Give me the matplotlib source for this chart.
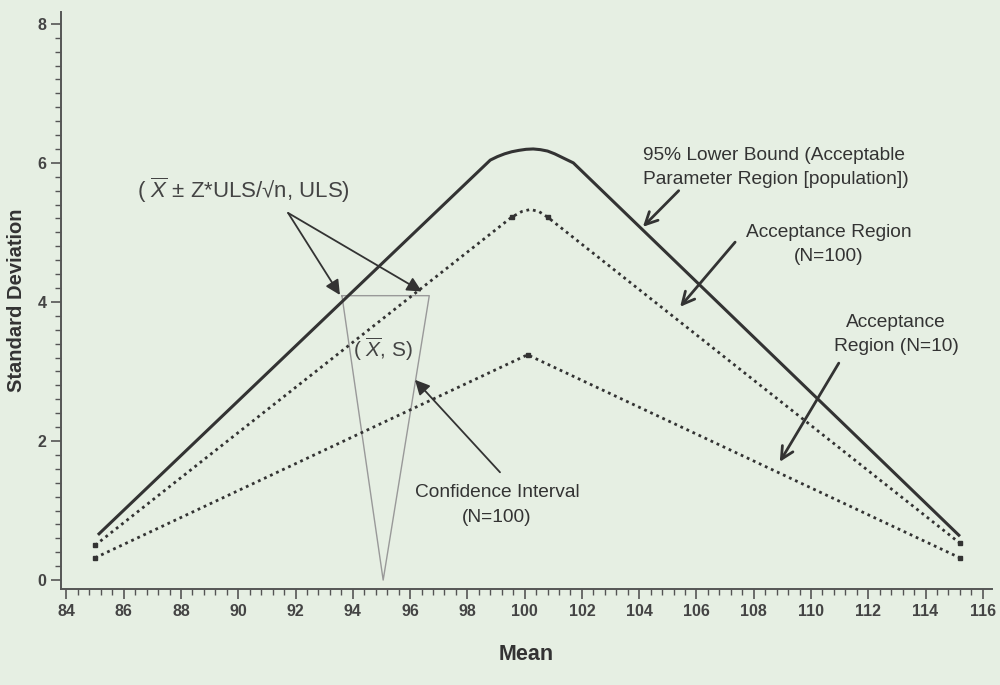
import numpy as np
import matplotlib
matplotlib.use('Agg')
import matplotlib.pyplot as plt
from matplotlib.ticker import MultipleLocator

plt.rcParams['font.family'] = ['Liberation Sans', 'DejaVu Sans']
plt.rcParams['mathtext.fontset'] = 'custom'
plt.rcParams['mathtext.rm'] = 'Liberation Sans'
plt.rcParams['mathtext.it'] = 'Liberation Sans:italic'

# 95% lower bound (solid)
lb_x = [85.1, 98.8, 99.05, 99.3, 99.55, 99.8, 100.05, 100.3, 100.55, 100.8, 101.05, 101.3, 101.5, 101.7, 115.2]
lb_y = [0.65, 6.04, 6.09, 6.13, 6.16, 6.18, 6.195, 6.20, 6.19, 6.17, 6.13, 6.08, 6.04, 6.00, 0.63]

# acceptance region N=100 (dotted)
a100_x = [85.0, 99.55, 99.9, 100.2, 100.5, 100.8, 115.2]
a100_y = [0.50, 5.22, 5.30, 5.33, 5.30, 5.22, 0.53]

# acceptance region N=10 (dotted)
a10_x = [85.0, 100.1, 115.2]
a10_y = [0.32, 3.24, 0.32]

# confidence interval triangle
ci_x = [93.62, 95.06, 96.67, 93.62]
ci_y = [4.09, 0.0, 4.09, 4.09]

bg = '#e6efe3'
dark = '#333333'
axcol = '#555555'

fig = plt.figure(figsize=(10, 6.85), dpi=100, facecolor=bg)
ax = fig.add_axes([0.061, 0.140, 0.931, 0.8425])
ax.set_facecolor(bg)

ax.plot(ci_x, ci_y, color='#999999', lw=1.0, zorder=1)
ax.plot(lb_x, lb_y, color=dark, lw=2.2, solid_capstyle='butt', solid_joinstyle='round', zorder=3)
ax.plot(a100_x, a100_y, color=dark, lw=2.0, linestyle=(0, (1, 1.4)), zorder=3)
ax.plot(a10_x, a10_y, color=dark, lw=2.0, linestyle=(0, (1, 1.4)), zorder=3)
ax.plot(a100_x, a100_y, ls='none', marker='s', ms=3.5, color=dark, markevery=[0, 1, 5, 6])
ax.plot(a10_x, a10_y, ls='none', marker='s', ms=3.5, color=dark)

ax.set_xlim(83.81, 116.32)
ax.set_ylim(-0.13, 8.17)
ax.xaxis.set_major_locator(MultipleLocator(2))
ax.xaxis.set_minor_locator(MultipleLocator(0.4))
ax.yaxis.set_major_locator(MultipleLocator(2))
ax.yaxis.set_minor_locator(MultipleLocator(0.2))
ax.tick_params(which='major', direction='out', length=7, width=1.2, color=axcol,
               labelsize=11.5, labelcolor='#444444')
ax.tick_params(which='minor', direction='out', length=4, width=1.0, color=axcol)
for lab in ax.get_xticklabels() + ax.get_yticklabels():
    lab.set_fontweight('bold')
for s in ['top', 'right']:
    ax.spines[s].set_visible(False)
for s in ['left', 'bottom']:
    ax.spines[s].set_color(axcol)
    ax.spines[s].set_linewidth(1.4)

ax.set_xlabel('Mean', fontsize=15.5, fontweight='bold', color=dark, labelpad=18)
ax.set_ylabel('Standard Deviation', fontsize=14.5, fontweight='bold', color=dark, labelpad=8)

fill_arrow = dict(arrowstyle='-|>', color=dark, lw=1.3, mutation_scale=22,
                  shrinkA=0, shrinkB=0)
line_arrow = dict(arrowstyle='->', color=dark, lw=2.0, mutation_scale=22,
                  shrinkA=0, shrinkB=0)

fs = 13.8

ax.text(90.17, 5.61, '( $\\overline{X}$ \u00b1 Z*ULS/\u221an, ULS)', fontsize=16,
        color='#444444', ha='center', va='center')
ax.annotate('', xy=(93.55, 4.10), xytext=(91.74, 5.28), arrowprops=fill_arrow)
ax.annotate('', xy=(96.41, 4.15), xytext=(91.74, 5.28), arrowprops=fill_arrow)

ax.text(95.06, 3.31, '( $\\overline{X}$, S)', fontsize=15, color='#444444',
        ha='center', va='center')

ax.text(99.04, 1.08, 'Confidence Interval\n(N=100)', fontsize=fs, color=dark,
        ha='center', va='center', linespacing=1.55)
ax.annotate('', xy=(96.17, 2.88), xytext=(99.14, 1.55), arrowprops=fill_arrow)

ax.text(104.13, 5.93, '95% Lower Bound (Acceptable\nParameter Region [population])',
        fontsize=fs, color=dark, ha='left', va='center', linespacing=1.55)
ax.annotate('', xy=(104.13, 5.08), xytext=(105.38, 5.60), arrowprops=line_arrow)

ax.text(110.63, 4.83, 'Acceptance Region\n(N=100)', fontsize=fs, color=dark,
        ha='center', va='center', linespacing=1.55)
ax.annotate('', xy=(105.43, 3.93), xytext=(107.35, 4.86), arrowprops=line_arrow)

ax.text(112.97, 3.53, 'Acceptance\nRegion (N=10)', fontsize=fs, color=dark,
        ha='center', va='center', linespacing=1.55)
ax.annotate('', xy=(108.91, 1.70), xytext=(110.97, 3.12), arrowprops=line_arrow)

fig.savefig('out.png', dpi=100, facecolor=bg)
